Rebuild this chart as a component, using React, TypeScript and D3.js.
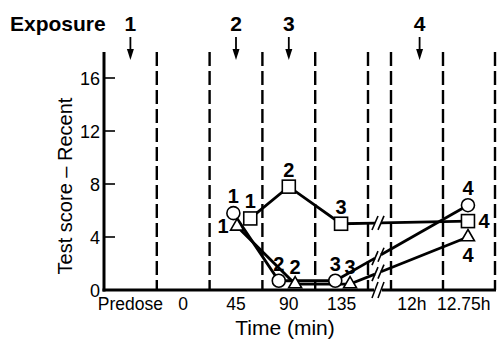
import React from "react";
import * as d3 from "d3";

// categories along the time axis (12h and 12.75h come after the axis break)
const timeLabels = ["Predose", "0", "45", "90", "135", "12h", "12.75h"];
const timeLabelSlots = [0.5, 1.5, 2.5, 3.5, 4.5, 5.4, 6.4];
const yTicks = [0, 4, 8, 12, 16];

const exposureLabels = ["1", "2", "3", "4"];
const exposureSlots = [0.5, 2.5, 3.5, 5.55];

// series: slot position (category index + offset) and test score
const circleSlots = [2.45, 3.31, 4.38, 6.48];
const circleScores = [5.8, 0.7, 0.7, 6.4];
const circleLabelPos = ["above", "above", "above", "above"];

const squareSlots = [2.77, 3.5, 4.49, 6.48];
const squareScores = [5.4, 7.8, 5.0, 5.2];
const squareLabelPos = ["above", "above", "above", "right"];

const triangleSlots = [2.52, 3.62, 4.66, 6.48];
const triangleScores = [4.8, 0.45, 0.45, 4.0];
const triangleLabelPos = ["left", "above", "above", "below"];

const pointLabels = ["1", "2", "3", "4"];

const W = 498;
const H = 340;
const FONT = "Arial, 'Liberation Sans', Helvetica, sans-serif";

const x = d3.scaleLinear().domain([0, 5, 5.0001, 7]).range([104, 368, 391, 495]);
const y = d3.scaleLinear().domain([0, 16]).range([290, 78]);
const yTop = 52;
const boundaries = [1, 2, 3, 4, 5, 5.0001, 6, 7];
const breakX1 = 375;
const breakX2 = 381;

const App = () => {
  const series = [
    { shape: "circle", slots: circleSlots, scores: circleScores, labelPos: circleLabelPos },
    { shape: "square", slots: squareSlots, scores: squareScores, labelPos: squareLabelPos },
    { shape: "triangle", slots: triangleSlots, scores: triangleScores, labelPos: triangleLabelPos },
  ];

  const line = d3.line();

  const marker = (shape, cx, cy, key) => {
    if (shape === "circle") {
      return <circle key={key} cx={cx} cy={cy} r={6.5} fill="white" stroke="black" strokeWidth={1.6} />;
    }
    if (shape === "square") {
      return <rect key={key} x={cx - 6.5} y={cy - 6.5} width={13} height={13} fill="white" stroke="black" strokeWidth={1.6} />;
    }
    const s = 13;
    const h = (s * Math.sqrt(3)) / 2;
    const pts = [[cx, cy - (2 * h) / 3], [cx + s / 2, cy + h / 3], [cx - s / 2, cy + h / 3]];
    return <path key={key} d={d3.line()(pts) + "Z"} fill="white" stroke="black" strokeWidth={1.6} />;
  };

  const labelXY = (pos, cx, cy) => {
    if (pos === "left") return [cx - 14, cy + 7];
    if (pos === "right") return [cx + 16, cy + 7];
    if (pos === "below") return [cx, cy + 25];
    return [cx, cy - 10];
  };

  const slash = (cx, cy, key, len = 7) => (
    <line key={key} x1={cx - 3} y1={cy + len} x2={cx + 3} y2={cy - len} stroke="black" strokeWidth={1.6} />
  );

  return (
    <div style={{ position: "fixed", left: 0, top: 0 }}>
      <svg width={W} height={H} style={{ display: "block", background: "white" }}>
        {/* exposure header */}
        <text x={10} y={31} fontFamily={FONT} fontWeight="bold" fontSize={21}>Exposure</text>
        {exposureLabels.map((lab, i) => {
          const ax = x(exposureSlots[i]);
          return (
            <g key={"exp" + i}>
              <text x={ax} y={31} textAnchor="middle" fontFamily={FONT} fontWeight="bold" fontSize={21}>{lab}</text>
              <line x1={ax} y1={37} x2={ax} y2={50} stroke="black" strokeWidth={1.8} />
              <path d={`M${ax - 3.5},${49}L${ax + 3.5},${49}L${ax},${60}Z`} fill="black" />
            </g>
          );
        })}

        {/* dashed category boundaries */}
        {boundaries.map((b, i) => (
          <line key={"b" + i} x1={x(b)} x2={x(b)} y1={yTop} y2={290} stroke="black" strokeWidth={2.4} strokeDasharray="14,5" />
        ))}

        {/* y axis */}
        <line x1={104} x2={104} y1={yTop} y2={291.5} stroke="black" strokeWidth={3} />
        {yTicks.map((t) => (
          <g key={"yt" + t}>
            <line x1={104} x2={115} y1={y(t)} y2={y(t)} stroke="black" strokeWidth={1.6} />
            <text x={100} y={y(t) + 6.5} textAnchor="end" fontFamily={FONT} fontSize={18}>{t}</text>
          </g>
        ))}
        <text transform={`translate(72,186) rotate(-90)`} textAnchor="middle" fontFamily={FONT} fontSize={20}>
          Test score – Recent
        </text>

        {/* x axis with break */}
        <line x1={102.5} x2={breakX1 - 1} y1={290} y2={290} stroke="black" strokeWidth={3} />
        <line x1={breakX2 + 1} x2={496} y1={290} y2={290} stroke="black" strokeWidth={3} />
        {slash(breakX1, 290, "xs1", 8)}
        {slash(breakX2, 290, "xs2", 8)}
        {timeLabels.map((lab, i) => (
          <text key={"xl" + i} x={x(timeLabelSlots[i])} y={310} textAnchor="middle" fontFamily={FONT} fontSize={17.5}>{lab}</text>
        ))}
        <text x={285} y={335} textAnchor="middle" fontFamily={FONT} fontSize={21}>Time (min)</text>

        {/* series */}
        {series.map((s, si) => {
          const pts = s.slots.map((sl, i) => [x(sl), y(s.scores[i])]);
          const p3 = pts[2];
          const p4 = pts[3];
          const yAt = (xx) => p3[1] + ((xx - p3[0]) / (p4[0] - p3[0])) * (p4[1] - p3[1]);
          const b1 = [breakX1, yAt(breakX1)];
          const b2 = [breakX2, yAt(breakX2)];
          return (
            <g key={"s" + si}>
              <path d={line(pts.slice(0, 3))} fill="none" stroke="black" strokeWidth={2.8} />
              <path d={line([p3, b1])} fill="none" stroke="black" strokeWidth={2.8} />
              <path d={line([b2, p4])} fill="none" stroke="black" strokeWidth={2.8} />
              {slash(b1[0], b1[1], "bs1")}
              {slash(b2[0], b2[1], "bs2")}
            </g>
          );
        })}
        {series.map((s, si) =>
          s.slots.map((sl, i) => {
            const cx = x(sl);
            const cy = y(s.scores[i]);
            const [lx, ly] = labelXY(s.labelPos[i], cx, cy);
            return (
              <g key={"m" + si + "-" + i}>
                {marker(s.shape, cx, cy, "mk")}
                <text x={lx} y={ly} textAnchor="middle" fontFamily={FONT} fontWeight="bold" fontSize={20}>{pointLabels[i]}</text>
              </g>
            );
          })
        )}
      </svg>
    </div>
  );
};

export default App;
